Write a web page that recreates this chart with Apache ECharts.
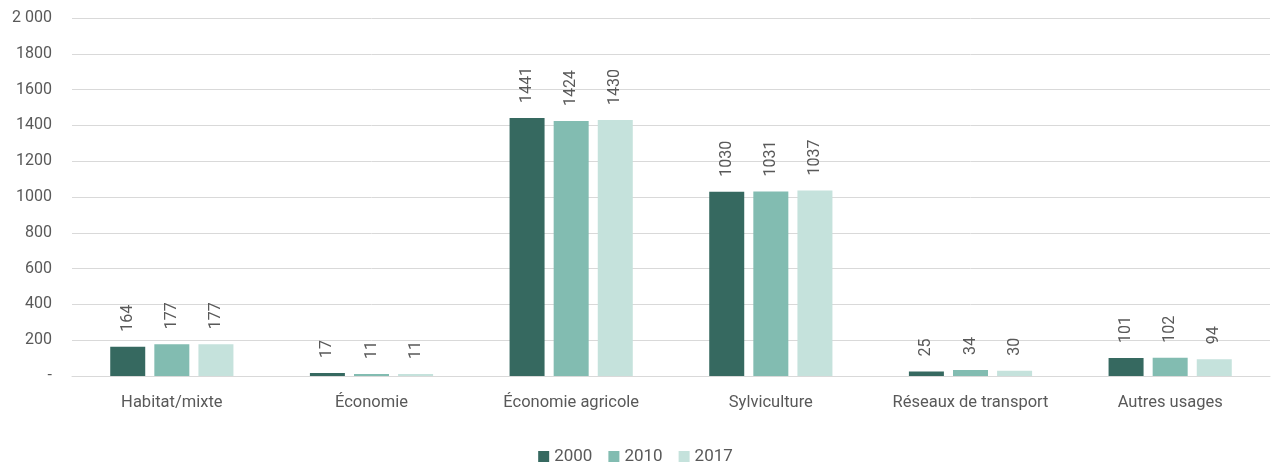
<!DOCTYPE html>
<html>
<head>
<meta charset="utf-8">
<script src="https://cdn.jsdelivr.net/npm/echarts@6/dist/echarts.min.js"></script>
<style>
  html, body { margin: 0; padding: 0; background: #fff; }
  #chart { width: 1271px; height: 465px; }
</style>
</head>
<body>
<div id="chart"></div>
<script>
// categories and values
const categories = ['Habitat/mixte', 'Économie', 'Économie agricole', 'Sylviculture', 'Réseaux de transport', 'Autres usages'];
const years = ['2000', '2010', '2017'];
const values2000 = [164, 17, 1441, 1030, 25, 101];
const values2010 = [177, 11, 1424, 1031, 34, 102];
const values2017 = [177, 11, 1430, 1037, 30, 94];
const colors = ['#366960', '#82bcb1', '#c5e2dc'];

const textColor = '#595959';
const font = 'Roboto, "Noto Sans", sans-serif';

function makeSeries(name, data, color) {
  return {
    name: name,
    type: 'bar',
    data: data,
    barWidth: 35,
    barGap: '26%',
    itemStyle: { color: color },
    label: {
      show: true,
      position: 'top',
      rotate: 90,
      align: 'left',
      verticalAlign: 'middle',
      distance: 15,
      color: textColor,
      fontFamily: font,
      fontSize: 16
    }
  };
}

const myChart = echarts.init(document.getElementById('chart'));
let option = {
  animation: false,
  textStyle: { fontFamily: font },
  grid: { left: 72, right: 1, top: 18, bottom: 89 },
  legend: {
    bottom: -5,
    left: 'center',
    icon: 'rect',
    itemWidth: 11,
    itemHeight: 11,
    itemGap: 16,
    textStyle: { color: textColor, fontSize: 17, fontFamily: font },
    data: years
  },
  xAxis: {
    type: 'category',
    data: categories,
    axisTick: { show: false },
    axisLine: { lineStyle: { color: '#d9d9d9' } },
    axisLabel: { interval: 0, color: textColor, fontSize: 16.5, margin: 18, fontFamily: font }
  },
  yAxis: {
    type: 'value',
    min: 0,
    max: 2000,
    interval: 200,
    axisLine: { show: false },
    axisTick: { show: false },
    splitLine: { lineStyle: { color: '#d9d9d9' } },
    axisLabel: {
      color: textColor,
      fontSize: 16,
      margin: 20,
      fontFamily: font,
      formatter: function (v) {
        if (v === 0) return '-';
        if (v === 2000) return '2 000';
        return String(v);
      }
    }
  },
  series: [
    makeSeries(years[0], values2000, colors[0]),
    makeSeries(years[1], values2010, colors[1]),
    makeSeries(years[2], values2017, colors[2])
  ]
};
myChart.setOption(option);
window.onresize = () => { myChart.resize(); };
</script>
</body>
</html>
